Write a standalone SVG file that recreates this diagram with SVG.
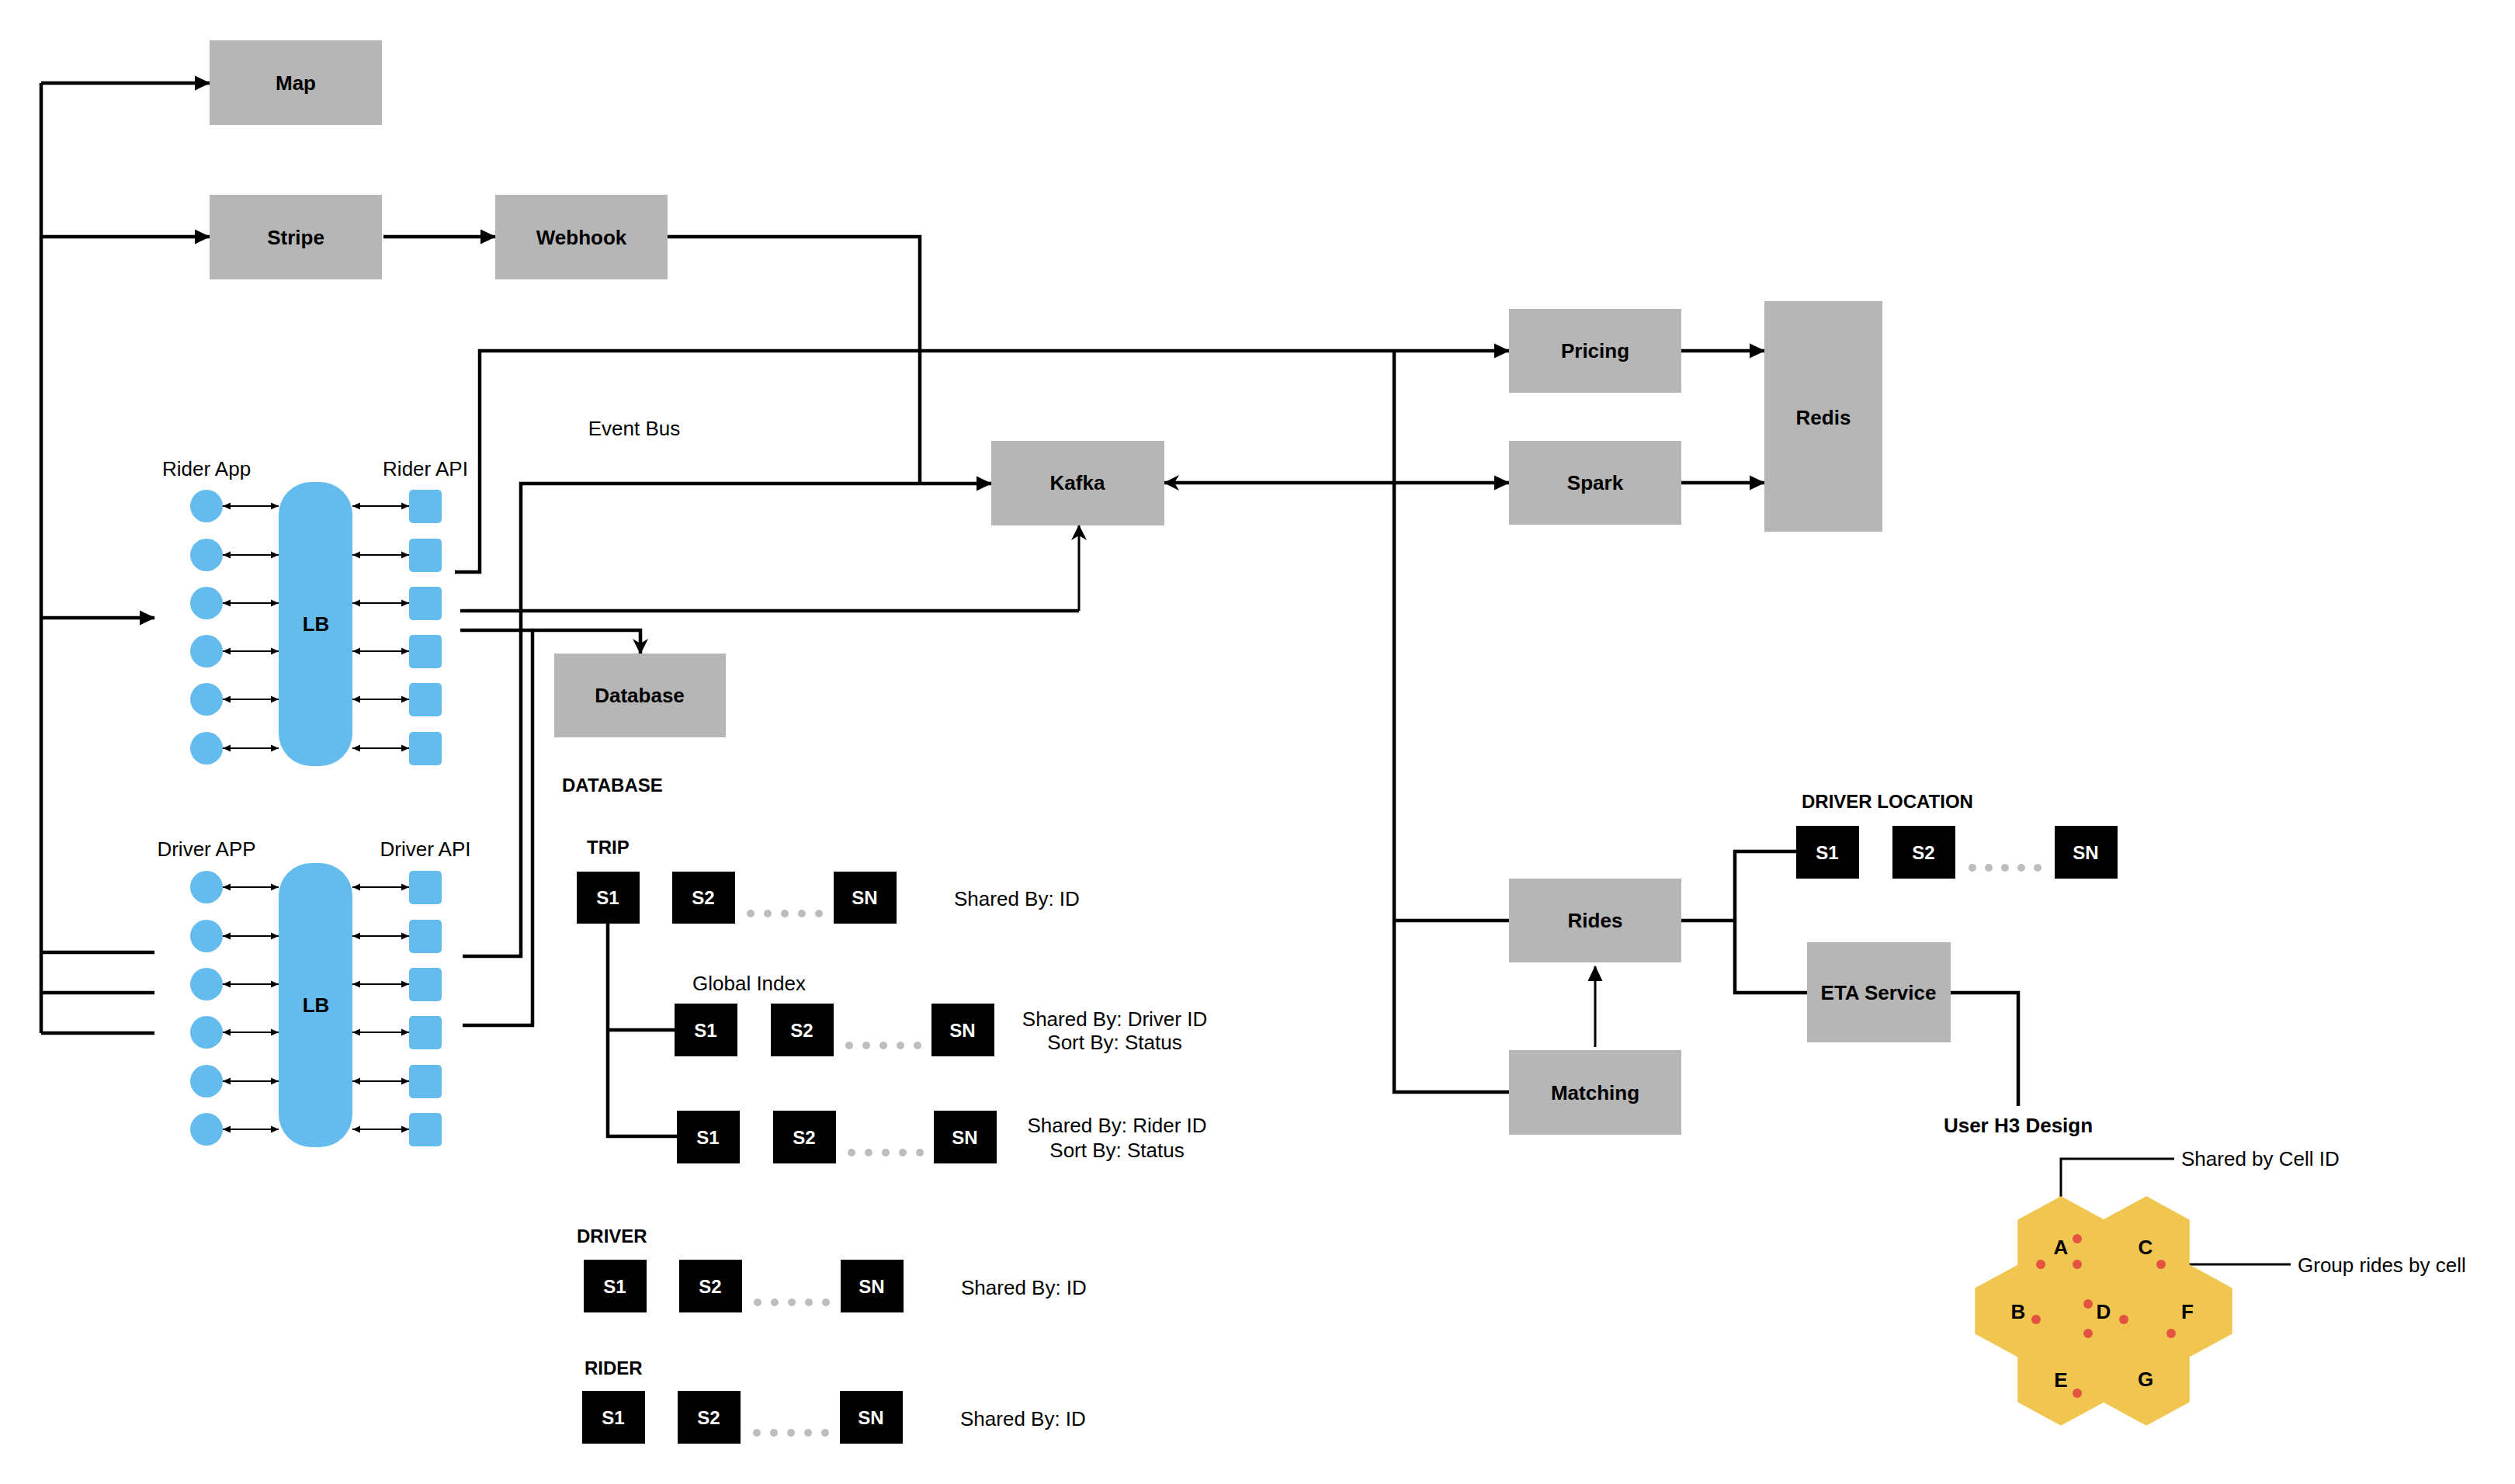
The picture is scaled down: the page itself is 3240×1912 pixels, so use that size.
<svg xmlns="http://www.w3.org/2000/svg" width="3240" height="1912" viewBox="0 0 3240 1912">
<style>
.box{fill:#B6B6B6}
.blk{fill:#000}
.blue{fill:#63BBEE}
.bl{font-family:"Liberation Sans",Arial,sans-serif;font-size:26px;font-weight:bold;fill:#000;text-anchor:middle}
.tx{font-family:"Liberation Sans",Arial,sans-serif;font-size:26px;fill:#000}
.hd{font-family:"Liberation Sans",Arial,sans-serif;font-size:24px;font-weight:bold;fill:#000}
.sl{font-family:"Liberation Sans",Arial,sans-serif;font-size:24px;font-weight:bold;fill:#fff;text-anchor:middle}
.c{text-anchor:middle}
.ln{fill:none;stroke:#000;stroke-width:4.5}
.th{fill:none;stroke:#000;stroke-width:3}
.sm{fill:none;stroke:#000;stroke-width:2;marker-start:url(#sa);marker-end:url(#sa)}
.dot{fill:#BDBDBD}
.hex{fill:#F0C651;stroke:#F0C651;stroke-width:1.5}
.rd{fill:#E4533F}
.hl{font-family:"Liberation Sans",Arial,sans-serif;font-size:26px;font-weight:bold;fill:#000;text-anchor:middle}
</style>
<defs>
<marker id="ah" markerUnits="userSpaceOnUse" markerWidth="20" markerHeight="20" viewBox="0 0 20 20" refX="19" refY="10" orient="auto-start-reverse"><path d="M0,0.5 L20,10 L0,19.5 z" fill="#000"/></marker>
<marker id="st" markerUnits="userSpaceOnUse" markerWidth="20" markerHeight="20" viewBox="0 0 20 20" refX="19" refY="10" orient="auto-start-reverse"><path d="M0,0 L20,10 L0,20 L6,10 z" fill="#000"/></marker>
<marker id="sa" markerUnits="userSpaceOnUse" markerWidth="10" markerHeight="10" viewBox="0 0 10 10" refX="10" refY="5" orient="auto-start-reverse"><path d="M0,0.5 L10,5 L0,9.5 z" fill="#000"/></marker>
</defs>
<rect width="3240" height="1912" fill="#fff"/>

<g id="connectors">
<path class="ln" d="M53,107 V1331"/>
<path class="ln" d="M53,107 H270" marker-end="url(#ah)"/>
<path class="ln" d="M53,305 H270" marker-end="url(#ah)"/>
<path class="ln" d="M53,796 H199" marker-end="url(#ah)"/>
<path class="ln" d="M53,1227 H199"/>
<path class="ln" d="M53,1279 H199"/>
<path class="ln" d="M53,1331 H199"/>
<path class="ln" d="M494,305 H638" marker-end="url(#ah)"/>
<path class="ln" d="M860,305 H1185 V623"/>
<path class="ln" d="M586,737 H618 V452 H1944" marker-end="url(#ah)"/>
<path class="ln" d="M596,1232 H671 V623 H1277" marker-end="url(#ah)"/>
<path class="ln" d="M593,787 H1390"/>
<path class="th" d="M1390,787 V677" marker-end="url(#st)"/>
<path class="ln" d="M593,812 H825 V842" marker-end="url(#st)"/>
<path class="ln" d="M596,1321 H686 V812"/>
<path class="ln" d="M1500,622 H1944" marker-start="url(#st)" marker-end="url(#ah)"/>
<path class="ln" d="M1796,452 V1407 H1944"/>
<path class="ln" d="M1796,1186 H1944"/>
<path class="ln" d="M2166,452 H2273" marker-end="url(#ah)"/>
<path class="ln" d="M2166,622 H2273" marker-end="url(#ah)"/>
<path class="th" d="M2055,1349 V1245" marker-end="url(#ah)"/>
<path class="ln" d="M2166,1186 H2235"/>
<path class="ln" d="M2314,1097 H2235 V1279 H2328"/>
<path class="ln" d="M2513,1279 H2600 V1425"/>
<path class="th" d="M2655,1543 V1493 H2801"/>
<path class="th" d="M2784,1629 H2951"/>
<path class="ln" d="M783,1190 V1464 H872"/>
<path class="ln" d="M783,1327 H869"/>
<g id="lb-arrows">
<path class="sm" d="M287,652 H359"/><path class="sm" d="M287,715 H359"/><path class="sm" d="M287,777 H359"/><path class="sm" d="M287,839 H359"/><path class="sm" d="M287,901 H359"/><path class="sm" d="M287,964 H359"/>
<path class="sm" d="M454,652 H527"/><path class="sm" d="M454,715 H527"/><path class="sm" d="M454,777 H527"/><path class="sm" d="M454,839 H527"/><path class="sm" d="M454,901 H527"/><path class="sm" d="M454,964 H527"/>
<path class="sm" d="M287,1143 H359"/><path class="sm" d="M287,1206 H359"/><path class="sm" d="M287,1268 H359"/><path class="sm" d="M287,1330 H359"/><path class="sm" d="M287,1393 H359"/><path class="sm" d="M287,1455 H359"/>
<path class="sm" d="M454,1143 H527"/><path class="sm" d="M454,1206 H527"/><path class="sm" d="M454,1268 H527"/><path class="sm" d="M454,1330 H527"/><path class="sm" d="M454,1393 H527"/><path class="sm" d="M454,1455 H527"/>
</g>
</g>

<g id="map"><rect class="box" x="270" y="52" width="222" height="109"/><text class="bl" x="381" y="116">Map</text></g>
<g id="stripe"><rect class="box" x="270" y="251" width="222" height="109"/><text class="bl" x="381" y="315">Stripe</text></g>
<g id="webhook"><rect class="box" x="638" y="251" width="222" height="109"/><text class="bl" x="749" y="315">Webhook</text></g>
<g id="kafka"><rect class="box" x="1277" y="568" width="223" height="109"/><text class="bl" x="1388" y="631">Kafka</text></g>
<g id="database"><rect class="box" x="714" y="842" width="221" height="108"/><text class="bl" x="824" y="905">Database</text></g>
<g id="pricing"><rect class="box" x="1944" y="398" width="222" height="108"/><text class="bl" x="2055" y="461">Pricing</text></g>
<g id="spark"><rect class="box" x="1944" y="568" width="222" height="108"/><text class="bl" x="2055" y="631">Spark</text></g>
<g id="redis"><rect class="box" x="2273" y="388" width="152" height="297"/><text class="bl" x="2349" y="547">Redis</text></g>
<g id="rides"><rect class="box" x="1944" y="1132" width="222" height="108"/><text class="bl" x="2055" y="1195">Rides</text></g>
<g id="matching"><rect class="box" x="1944" y="1353" width="222" height="109"/><text class="bl" x="2055" y="1417">Matching</text></g>
<g id="eta-service"><rect class="box" x="2328" y="1214" width="185" height="129"/><text class="bl" x="2420" y="1288">ETA Service</text></g>

<text class="tx c" x="817" y="561">Event Bus</text>

<g id="rider-cluster">
<text class="tx c" x="266" y="613">Rider App</text>
<text class="tx c" x="548" y="613">Rider API</text>
<rect class="blue" x="359" y="621" width="95" height="366" rx="42"/>
<text class="bl" x="407" y="813">LB</text>
<circle class="blue" cx="266" cy="652" r="21"/><circle class="blue" cx="266" cy="715" r="21"/><circle class="blue" cx="266" cy="777" r="21"/><circle class="blue" cx="266" cy="839" r="21"/><circle class="blue" cx="266" cy="901" r="21"/><circle class="blue" cx="266" cy="964" r="21"/>
<rect class="blue" x="527" y="631" width="42" height="43" rx="5"/><rect class="blue" x="527" y="694" width="42" height="43" rx="5"/><rect class="blue" x="527" y="756" width="42" height="43" rx="5"/><rect class="blue" x="527" y="818" width="42" height="43" rx="5"/><rect class="blue" x="527" y="880" width="42" height="43" rx="5"/><rect class="blue" x="527" y="943" width="42" height="43" rx="5"/>
</g>

<g id="driver-cluster">
<text class="tx c" x="266" y="1103">Driver APP</text>
<text class="tx c" x="548" y="1103">Driver API</text>
<rect class="blue" x="359" y="1112" width="95" height="366" rx="42"/>
<text class="bl" x="407" y="1304">LB</text>
<circle class="blue" cx="266" cy="1143" r="21"/><circle class="blue" cx="266" cy="1206" r="21"/><circle class="blue" cx="266" cy="1268" r="21"/><circle class="blue" cx="266" cy="1330" r="21"/><circle class="blue" cx="266" cy="1393" r="21"/><circle class="blue" cx="266" cy="1455" r="21"/>
<rect class="blue" x="527" y="1122" width="42" height="43" rx="5"/><rect class="blue" x="527" y="1185" width="42" height="43" rx="5"/><rect class="blue" x="527" y="1247" width="42" height="43" rx="5"/><rect class="blue" x="527" y="1309" width="42" height="43" rx="5"/><rect class="blue" x="527" y="1372" width="42" height="43" rx="5"/><rect class="blue" x="527" y="1434" width="42" height="43" rx="5"/>
</g>

<g id="database-schema">
<text class="hd" x="724" y="1020">DATABASE</text>
<text class="hd" x="756" y="1100">TRIP</text>
<g id="trip-shards">
<rect class="blk" x="743" y="1123" width="81" height="67"/><text class="sl" x="783" y="1165">S1</text>
<rect class="blk" x="866" y="1123" width="81" height="67"/><text class="sl" x="906" y="1165">S2</text>
<rect class="blk" x="1074" y="1123" width="81" height="67"/><text class="sl" x="1114" y="1165">SN</text>
<circle class="dot" cx="967" cy="1177" r="5"/><circle class="dot" cx="989" cy="1177" r="5"/><circle class="dot" cx="1011" cy="1177" r="5"/><circle class="dot" cx="1033" cy="1177" r="5"/><circle class="dot" cx="1055" cy="1177" r="5"/>
<text class="tx" x="1229" y="1167">Shared By: ID</text>
</g>
<text class="tx c" x="965" y="1276">Global Index</text>
<g id="trip-driver-index">
<rect class="blk" x="869" y="1293" width="81" height="68"/><text class="sl" x="909" y="1336">S1</text>
<rect class="blk" x="993" y="1293" width="81" height="68"/><text class="sl" x="1033" y="1336">S2</text>
<rect class="blk" x="1200" y="1293" width="81" height="68"/><text class="sl" x="1240" y="1336">SN</text>
<circle class="dot" cx="1094" cy="1347" r="5"/><circle class="dot" cx="1116" cy="1347" r="5"/><circle class="dot" cx="1138" cy="1347" r="5"/><circle class="dot" cx="1160" cy="1347" r="5"/><circle class="dot" cx="1182" cy="1347" r="5"/>
<text class="tx c" x="1436" y="1322">Shared By: Driver ID</text>
<text class="tx c" x="1436" y="1352">Sort By: Status</text>
</g>
<g id="trip-rider-index">
<rect class="blk" x="872" y="1431" width="81" height="68"/><text class="sl" x="912" y="1474">S1</text>
<rect class="blk" x="996" y="1431" width="81" height="68"/><text class="sl" x="1036" y="1474">S2</text>
<rect class="blk" x="1203" y="1431" width="81" height="68"/><text class="sl" x="1243" y="1474">SN</text>
<circle class="dot" cx="1097" cy="1485" r="5"/><circle class="dot" cx="1119" cy="1485" r="5"/><circle class="dot" cx="1141" cy="1485" r="5"/><circle class="dot" cx="1163" cy="1485" r="5"/><circle class="dot" cx="1185" cy="1485" r="5"/>
<text class="tx c" x="1439" y="1459">Shared By: Rider ID</text>
<text class="tx c" x="1439" y="1491">Sort By: Status</text>
</g>
<text class="hd" x="743" y="1601">DRIVER</text>
<g id="driver-shards">
<rect class="blk" x="752" y="1623" width="81" height="68"/><text class="sl" x="792" y="1666">S1</text>
<rect class="blk" x="875" y="1623" width="81" height="68"/><text class="sl" x="915" y="1666">S2</text>
<rect class="blk" x="1083" y="1623" width="81" height="68"/><text class="sl" x="1123" y="1666">SN</text>
<circle class="dot" cx="976" cy="1678" r="5"/><circle class="dot" cx="998" cy="1678" r="5"/><circle class="dot" cx="1020" cy="1678" r="5"/><circle class="dot" cx="1042" cy="1678" r="5"/><circle class="dot" cx="1064" cy="1678" r="5"/>
<text class="tx" x="1238" y="1668">Shared By: ID</text>
</g>
<text class="hd" x="753" y="1771">RIDER</text>
<g id="rider-shards">
<rect class="blk" x="750" y="1792" width="81" height="68"/><text class="sl" x="790" y="1835">S1</text>
<rect class="blk" x="873" y="1792" width="81" height="68"/><text class="sl" x="913" y="1835">S2</text>
<rect class="blk" x="1082" y="1792" width="81" height="68"/><text class="sl" x="1122" y="1835">SN</text>
<circle class="dot" cx="975" cy="1846" r="5"/><circle class="dot" cx="997" cy="1846" r="5"/><circle class="dot" cx="1019" cy="1846" r="5"/><circle class="dot" cx="1041" cy="1846" r="5"/><circle class="dot" cx="1063" cy="1846" r="5"/>
<text class="tx" x="1237" y="1837">Shared By: ID</text>
</g>
</g>

<g id="driver-location">
<text class="hd" x="2321" y="1041">DRIVER LOCATION</text>
<rect class="blk" x="2314" y="1064" width="81" height="68"/><text class="sl" x="2354" y="1107">S1</text>
<rect class="blk" x="2438" y="1064" width="81" height="68"/><text class="sl" x="2478" y="1107">S2</text>
<rect class="blk" x="2647" y="1064" width="81" height="68"/><text class="sl" x="2687" y="1107">SN</text>
<circle class="dot" cx="2541" cy="1118" r="5"/><circle class="dot" cx="2562" cy="1118" r="5"/><circle class="dot" cx="2583" cy="1118" r="5"/><circle class="dot" cx="2604" cy="1118" r="5"/><circle class="dot" cx="2625" cy="1118" r="5"/>
</g>

<g id="h3-design">
<text class="hl" x="2600" y="1459">User H3 Design</text>
<polygon class="hex" points="2655,1542 2710,1572 2710,1630 2655,1660 2600,1630 2600,1572"/>
<polygon class="hex" points="2765,1542 2820,1572 2820,1630 2765,1660 2710,1630 2710,1572"/>
<polygon class="hex" points="2600,1630 2655,1660 2655,1718 2600,1748 2545,1718 2545,1660"/>
<polygon class="hex" points="2710,1630 2765,1660 2765,1718 2710,1748 2655,1718 2655,1660"/>
<polygon class="hex" points="2820,1630 2875,1660 2875,1718 2820,1748 2765,1718 2765,1660"/>
<polygon class="hex" points="2655,1718 2710,1748 2710,1806 2655,1836 2600,1806 2600,1748"/>
<polygon class="hex" points="2765,1718 2820,1748 2820,1806 2765,1836 2710,1806 2710,1748"/>
<text class="hl" x="2655" y="1616">A</text>
<text class="hl" x="2764" y="1616">C</text>
<text class="hl" x="2600" y="1699">B</text>
<text class="hl" x="2710" y="1699">D</text>
<text class="hl" x="2818" y="1699">F</text>
<text class="hl" x="2655" y="1787">E</text>
<text class="hl" x="2764" y="1786">G</text>
<circle class="rd" cx="2676" cy="1596" r="6"/><circle class="rd" cx="2629" cy="1629" r="6"/><circle class="rd" cx="2676" cy="1629" r="6"/><circle class="rd" cx="2784" cy="1629" r="6"/><circle class="rd" cx="2690" cy="1680" r="6"/><circle class="rd" cx="2623" cy="1700" r="6"/><circle class="rd" cx="2736" cy="1700" r="6"/><circle class="rd" cx="2690" cy="1718" r="6"/><circle class="rd" cx="2797" cy="1718" r="6"/><circle class="rd" cx="2676" cy="1795" r="6"/>
<text class="tx" x="2810" y="1502">Shared by Cell ID</text>
<text class="tx" x="2960" y="1639">Group rides by cell</text>
</g>
</svg>
